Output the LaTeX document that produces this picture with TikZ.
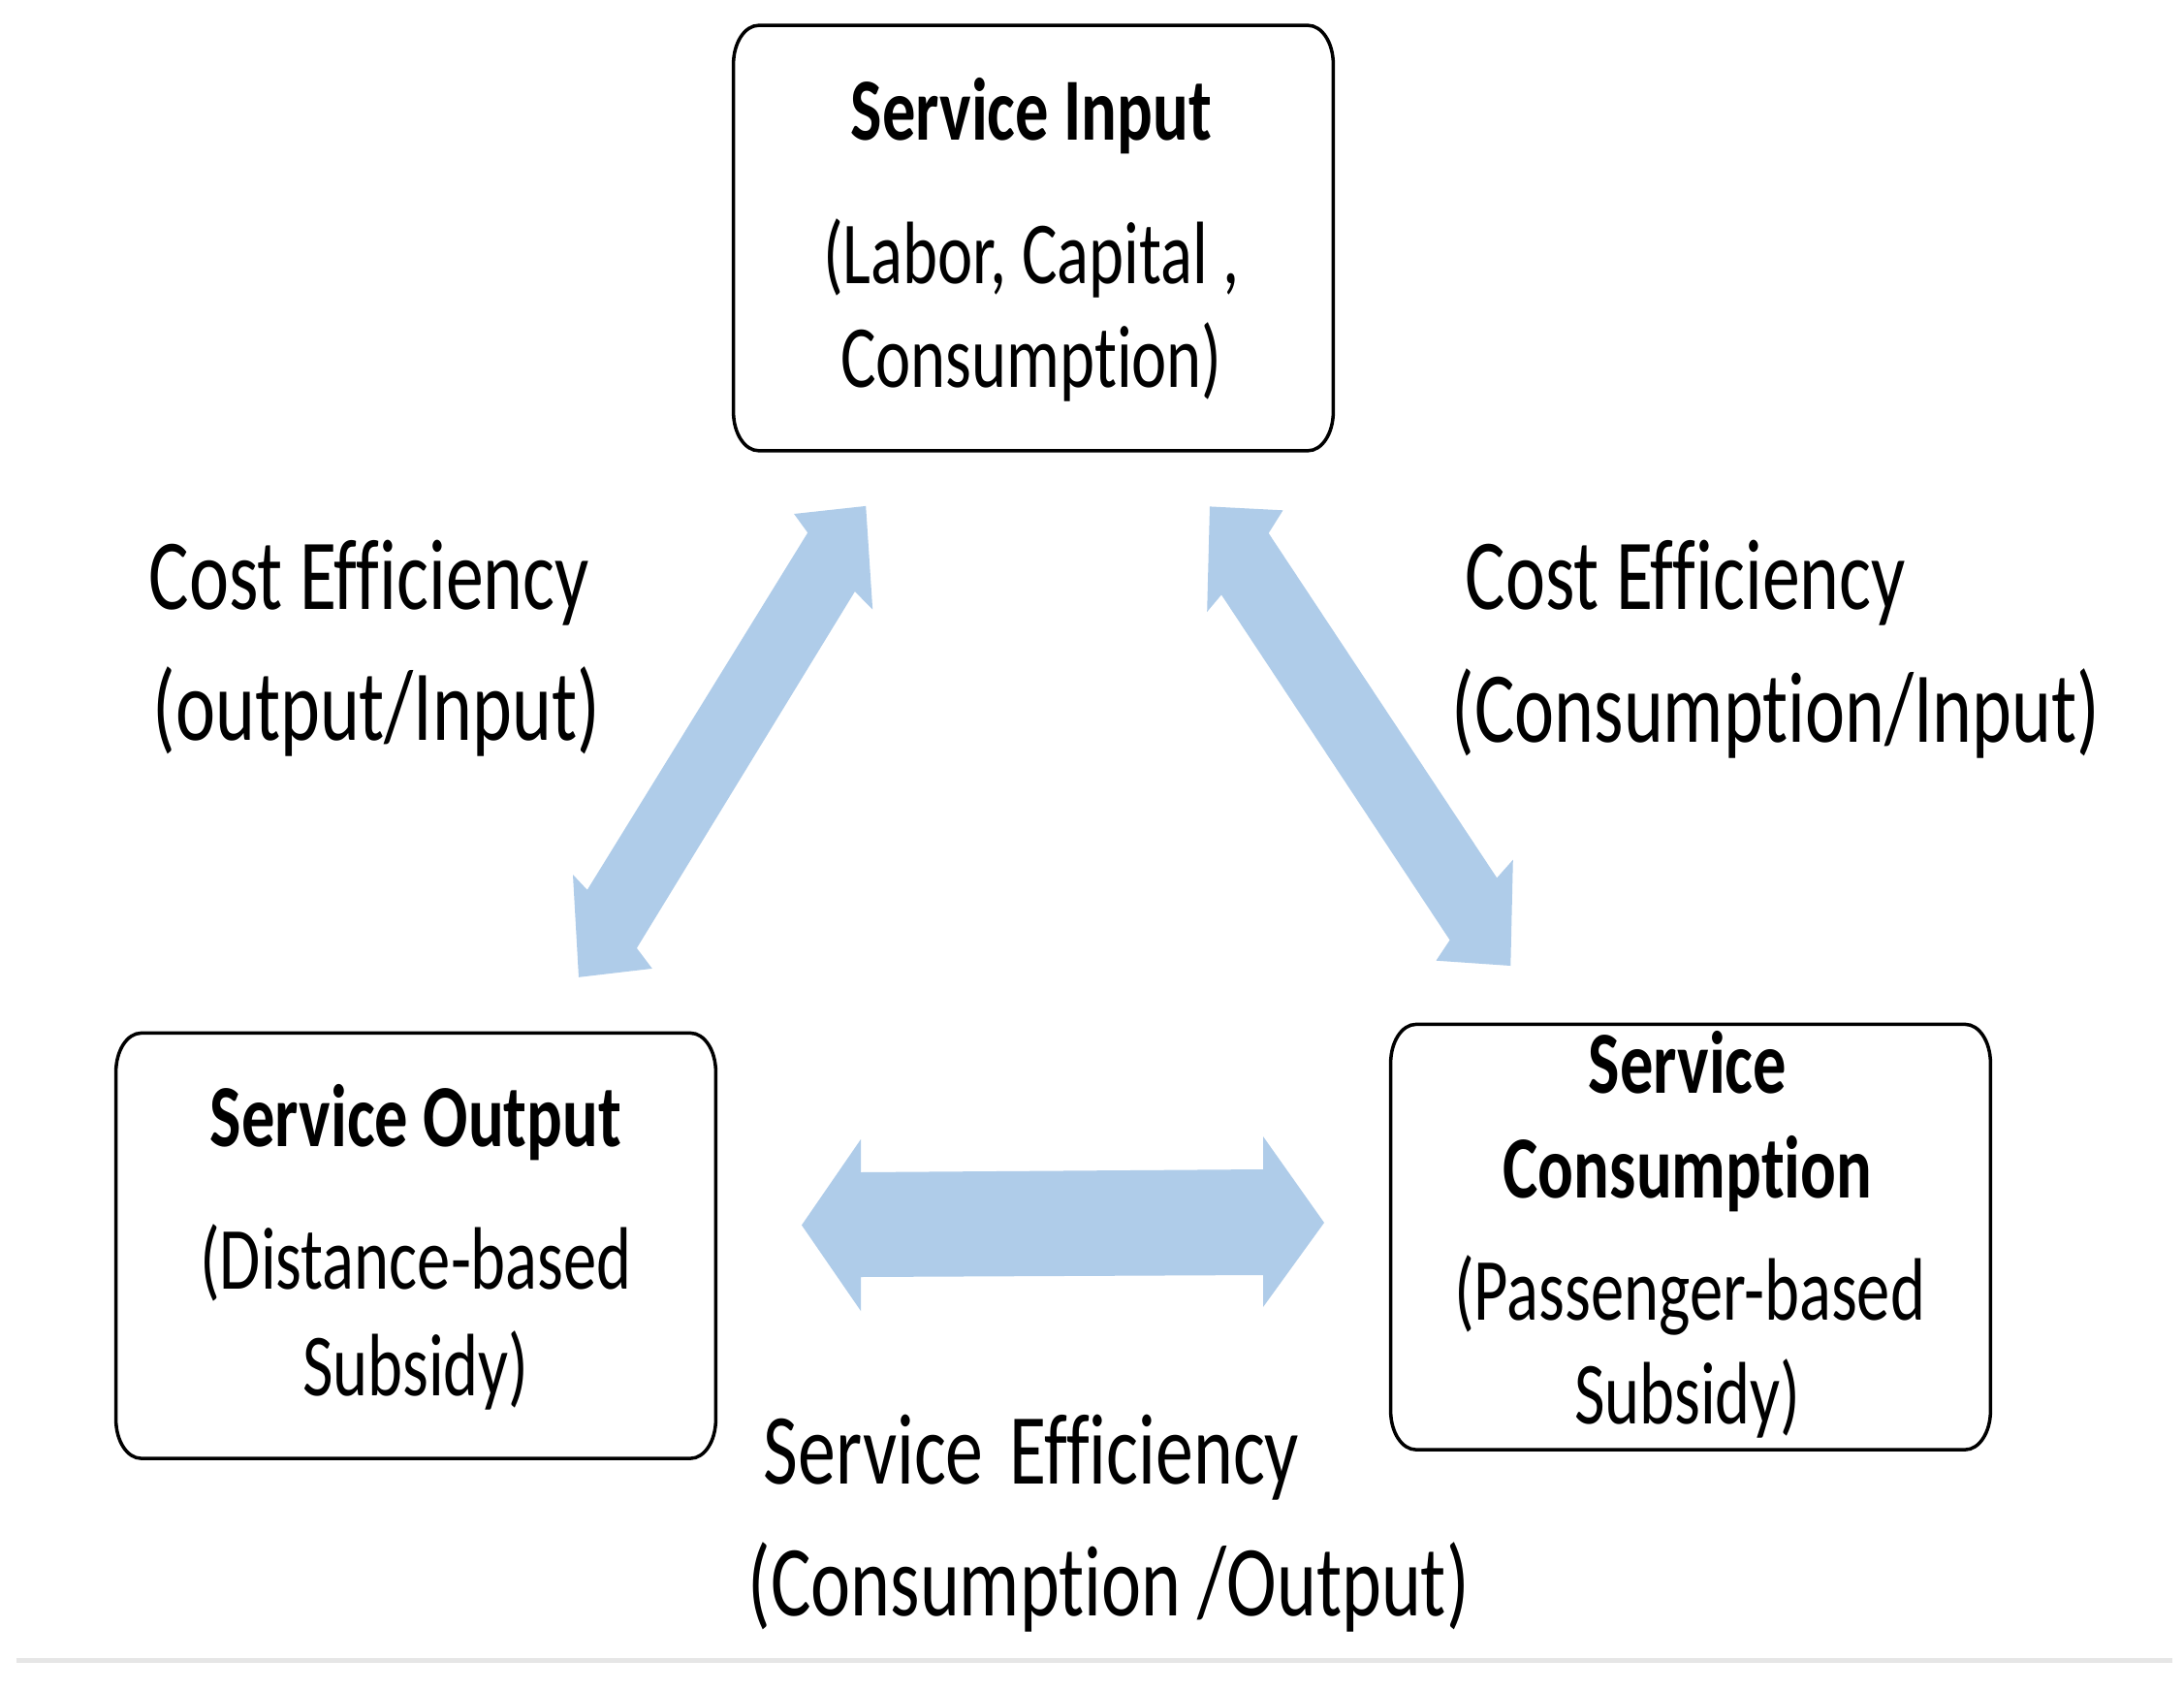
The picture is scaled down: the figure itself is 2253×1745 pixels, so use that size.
\documentclass[tikz,border=0pt]{standalone}
\usepackage{fontspec}
\setmainfont{Carlito}[FakeStretch=0.75, Ligatures=NoCommon]
\definecolor{arrowblue}{RGB}{175,204,233}
\definecolor{rulegrey}{RGB}{230,230,230}
\tikzset{
  boxtxt/.style={inner sep=0pt, anchor=base, font=\fontsize{26pt}{30pt}\selectfont},
  boxbold/.style={inner sep=0pt, anchor=base, font=\fontsize{26pt}{30pt}\selectfont\bfseries},
  lbl/.style={inner sep=0pt, anchor=base west, font=\fontsize{29.5pt}{34pt}\selectfont},
  blockarrow/.style={fill=arrowblue, draw=none},
  boxline/.style={draw=black, line width=1pt},
  boxarea/.style={draw=none, inner sep=0pt, rectangle, minimum width=6.17cm, minimum height=4.37cm},
}
\newcommand{\roundedoutline}[1]{%
  \draw[boxline] ([yshift=-0.40cm]#1.north west) -- ([yshift=0.40cm]#1.south west)
    arc[start angle=180,end angle=270,x radius=0.26cm,y radius=0.40cm]
    -- ([xshift=-0.26cm]#1.south east)
    arc[start angle=270,end angle=360,x radius=0.26cm,y radius=0.40cm]
    -- ([yshift=-0.40cm]#1.north east)
    arc[start angle=0,end angle=90,x radius=0.26cm,y radius=0.40cm]
    -- ([xshift=0.26cm]#1.north west)
    arc[start angle=90,end angle=180,x radius=0.26cm,y radius=0.40cm] -- cycle;}
\begin{document}
\begin{tikzpicture}[x=0.01cm, y=-0.01cm]
  \fill[white] (0,0) rectangle (2253,1745);
  \useasboundingbox (0,0) rectangle (2253,1745);

  % boxes
  \node[boxarea] (input) at (1066,245.5) {};
  \node[boxarea] (output) at (429,1284.75) {};
  \node[boxarea] (consum) at (1744,1275.75) {};
  \roundedoutline{input}
  \roundedoutline{output}
  \roundedoutline{consum}

  % box texts
  \node[boxbold] (inT) at (1064,144) {Service Input};
  \node[boxtxt] (inA) at (1064,292) {(Labor, Capital ,};
  \node[boxtxt] (inB) at (1064,399) {Consumption)};

  \node[boxbold] (outT) at (429,1182) {Service Output};
  \node[boxtxt] (outA) at (429,1329.6) {(Distance-based};
  \node[boxtxt] (outB) at (429,1439.5) {Subsidy)};

  \node[boxbold] (conT) at (1741,1127.7) {Service};
  \node[boxbold] (conU) at (1741,1235) {Consumption};
  \node[boxtxt] (conA) at (1743,1361) {(Passenger-based};
  \node[boxtxt] (conB) at (1741,1468.6) {Subsidy)};

  % block arrows
  \fill[blockarrow] (819.1,530.0) -- (893.2,521.9) -- (900.2,628.7) -- (881.9,610.0)
    -- (656.9,977.8) -- (672.8,998.9) -- (597.0,1007.8) -- (591.0,902.0)
    -- (605.8,917.8) -- (833.2,549.4) -- cycle;
  \fill[blockarrow] (1248.0,522.4) -- (1323.5,526.3) -- (1308.7,549.9) -- (1544.2,905.4)
    -- (1560.8,886.7) -- (1558.3,996.0) -- (1481.5,990.7) -- (1495.6,969.5)
    -- (1260.0,613.4) -- (1245.2,631.0) -- cycle;
  \fill[blockarrow] (827,1263.5) -- (888,1175) -- (888,1209) -- (1303,1206) -- (1303,1172)
    -- (1366,1261) -- (1303,1348) -- (1303,1315) -- (888,1317) -- (888,1352) -- cycle;

  % labels
  \node[lbl] (ceL1) at (153,628) {Cost Efficiency};
  \node[lbl] (ceL2) at (157,763) {(output/Input)};
  \node[lbl] (ceR1) at (1511,628) {Cost Efficiency};
  \node[lbl] (ceR2) at (1497,765) {(Consumption/Input)};
  \node[lbl] (se1) at (787,1530) {Service\hspace{0.26em}Efficiency};
  \node[lbl] (se2) at (771,1666) {(Consumption /Output)};

  % bottom rule
  \draw[rulegrey, line width=0.05cm] (17,1712) -- (2241,1712);
\end{tikzpicture}
\end{document}
